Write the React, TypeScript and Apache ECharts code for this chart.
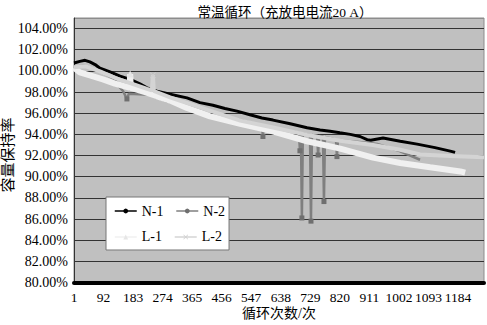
import React, { useEffect, useRef } from "react";
import * as echarts from "echarts";

const titleText = "常温循环（充放电电流20 A）";
const yAxisName = "容量保持率";
const xAxisName = "循环次数/次";
const seriesNames = ["N-1", "N-2", "L-1", "L-2"];

const xTickLabels = [1, 92, 183, 274, 365, 456, 547, 638, 729, 820, 911, 1002, 1093, 1184];
const xMin = 1;
const xMax = 1264;
const yMin = 80;
const yMax = 105;
const yStep = 2;

const n1Cycles = [1, 19, 35, 50, 66, 81, 112, 143, 174, 204, 226, 257, 297, 349, 389, 429, 466, 503, 543, 580, 614, 667, 719, 759, 790, 820, 852, 882, 904, 915, 953, 1006, 1058, 1113, 1160, 1175];
const n1Values = [100.75, 100.9, 101.0, 100.85, 100.6, 100.25, 99.9, 99.5, 99.2, 98.77, 98.4, 98.08, 97.8, 97.45, 97.0, 96.75, 96.45, 96.2, 95.85, 95.55, 95.35, 95.0, 94.62, 94.42, 94.3, 94.15, 94.0, 93.8, 93.5, 93.45, 93.65, 93.36, 93.08, 92.75, 92.42, 92.3];

const n2Cycles = [1, 35, 81, 127, 140, 152, 164, 170, 235, 288, 343, 429, 503, 580, 583, 586, 667, 694, 697, 700, 703, 706, 728, 731, 734, 750, 753, 756, 768, 771, 774, 808, 811, 814, 870, 904, 935, 1006, 1067];
const n2Values = [100.4, 100.5, 99.95, 99.2, 98.5, 98.1, 97.35, 97.85, 97.75, 97.1, 96.9, 96.15, 95.4, 94.85, 93.8, 94.8, 94.3, 94.15, 92.45, 94.1, 86.1, 94.05, 93.95, 85.8, 93.95, 93.85, 92.05, 93.85, 93.8, 87.65, 93.75, 93.5, 91.9, 93.45, 93.3, 93.2, 93.1, 92.4, 91.6];
const n2MarkerCycles = [164, 583, 697, 703, 731, 753, 771, 811];

const l1Cycles = [1, 19, 50, 90, 127, 172, 174, 176, 220, 257, 297, 349, 420, 513, 605, 719, 821, 922, 1006, 1098, 1191, 1206];
const l1Values = [100.3, 99.85, 99.57, 99.2, 98.8, 98.42, 99.7, 98.4, 98.0, 97.6, 97.2, 96.5, 95.7, 95.0, 94.36, 93.35, 92.65, 91.8, 91.3, 90.9, 90.5, 90.38];
const l1MarkerCycles = [174];

const l2Cycles = [1, 35, 81, 127, 174, 226, 241, 244, 247, 297, 389, 513, 614, 719, 821, 922, 1006, 1067, 1160, 1264];
const l2Values = [100.35, 100.45, 99.95, 99.35, 98.85, 98.3, 98.15, 99.6, 98.1, 97.5, 96.55, 95.3, 94.65, 93.95, 93.4, 93.0, 92.55, 92.1, 91.95, 91.85];
const l2MarkerCycles = [244];

const SERIF = "'Liberation Serif', 'Times New Roman', 'Noto Sans CJK SC', serif";
const CROSS = "path://M0,1L1,0L5,4L9,0L10,1L6,5L10,9L9,10L5,6L1,10L0,9L4,5Z";

function build(cycles: number[], values: number[], markers: number[], symbol: string, size: number) {
  return cycles.map((c, i) =>
    markers.indexOf(c) >= 0
      ? { value: [c, values[i]], symbol, symbolSize: size }
      : { value: [c, values[i]] }
  );
}

export default function App() {
  const ref = useRef<HTMLDivElement>(null);
  useEffect(() => {
    if (!ref.current) return;
    const chart = echarts.init(ref.current, undefined, { renderer: "svg" });
    const gridColors: string[] = [];
    for (let v = yMin; v < yMax; v += yStep) gridColors.push("#333333");
    gridColors.push("#8c8c8c");
    const lineBase = {
      type: "line" as const,
      symbolSize: 0,
      showAllSymbol: true,
      smooth: false,
      emphasis: { disabled: true },
    };
    chart.setOption({
      animation: false,
      backgroundColor: "#ffffff",
      title: {
        text: titleText,
        left: 280,
        top: 1,
        textAlign: "center",
        textStyle: { fontFamily: SERIF, fontSize: 13.5, fontWeight: "normal", color: "#000" },
      },
      grid: {
        left: 74,
        right: 3,
        top: 18,
        bottom: 42.5,
        show: true,
        backgroundColor: "#c0c0c0",
        borderColor: "#8c8c8c",
        borderWidth: 1,
      },
      legend: {
        data: seriesNames,
        left: 106,
        top: 197,
        width: 112,
        orient: "horizontal",
        padding: [7, 4, 6, 8],
        itemGap: 12,
        itemWidth: 22,
        itemHeight: 6,
        backgroundColor: "#ffffff",
        borderColor: "#777777",
        borderWidth: 1,
        borderRadius: 0,
        lineStyle: { width: 1.5 },
        textStyle: { fontFamily: SERIF, fontSize: 14, color: "#000", lineHeight: 12 },
      },
      xAxis: {
        type: "value",
        min: xMin,
        max: xMax,
        axisLine: { show: true, lineStyle: { color: "#000", width: 4 } },
        axisTick: { show: false },
        splitLine: { show: false },
        axisLabel: {
          customValues: xTickLabels,
          hideOverlap: false,
          margin: 8,
          fontFamily: SERIF,
          fontSize: 13.5,
          color: "#000",
          formatter: (v: number) => String(v),
        },
      },
      yAxis: {
        type: "value",
        min: yMin,
        max: yMax,
        interval: yStep,
        axisLine: { show: true, lineStyle: { color: "#333", width: 1 } },
        axisTick: { show: false },
        splitLine: { show: true, lineStyle: { color: gridColors, width: 1 } },
        axisLabel: {
          showMaxLabel: false,
          margin: 6,
          fontFamily: SERIF,
          fontSize: 14,
          color: "#000",
          formatter: (v: number) => v.toFixed(2) + "%",
        },
      },
      graphic: [
        {
          type: "text",
          x: 8,
          y: 155,
          rotation: Math.PI / 2,
          style: {
            text: yAxisName,
            fontFamily: SERIF,
            fontSize: 15,
            fill: "#000",
            align: "center",
            verticalAlign: "middle",
          },
        },
        {
          type: "text",
          x: 279,
          y: 313,
          style: {
            text: xAxisName,
            fontFamily: SERIF,
            fontSize: 14,
            fill: "#000",
            align: "center",
            verticalAlign: "middle",
          },
        },
      ],
      series: [
        {
          ...lineBase,
          name: "N-1",
          symbol: "circle",
          color: "#000000",
          lineStyle: { color: "#000000", width: 3 },
          itemStyle: { color: "#000000" },
          data: build(n1Cycles, n1Values, [], "circle", 4),
        },
        {
          ...lineBase,
          name: "N-2",
          symbol: "circle",
          color: "#7f7f7f",
          lineStyle: { color: "#7f7f7f", width: 2.5 },
          itemStyle: { color: "#6f6f6f" },
          data: build(n2Cycles, n2Values, n2MarkerCycles, "rect", 5),
        },
        {
          ...lineBase,
          name: "L-1",
          symbol: "triangle",
          color: "#f0f0f0",
          lineStyle: { color: "#f0f0f0", width: 6 },
          itemStyle: { color: "#e6e6e6" },
          data: build(l1Cycles, l1Values, l1MarkerCycles, "triangle", 7),
        },
        {
          ...lineBase,
          name: "L-2",
          symbol: CROSS,
          color: "#d4d4d4",
          lineStyle: { color: "#d4d4d4", width: 4 },
          itemStyle: { color: "#cfcfcf" },
          data: build(l2Cycles, l2Values, l2MarkerCycles, CROSS, 6),
        },
      ],
    });
    return () => chart.dispose();
  }, []);
  return (
    <div
      ref={ref}
      style={{ position: "fixed", left: 0, top: 0, width: 487, height: 325 }}
    />
  );
}
